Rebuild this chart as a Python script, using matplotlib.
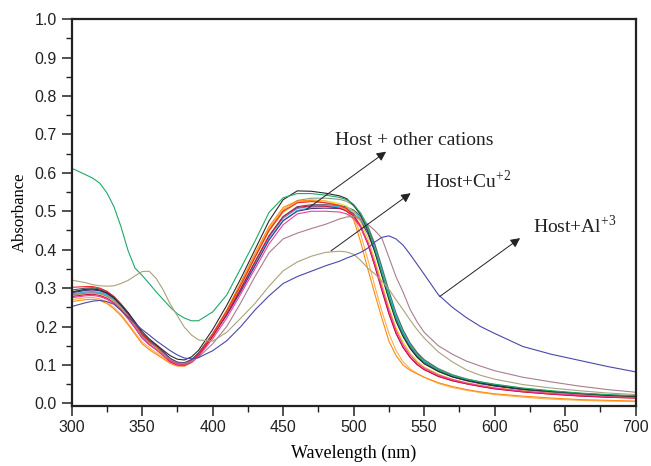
import matplotlib
matplotlib.use("Agg")
import matplotlib.pyplot as plt
from matplotlib.ticker import MultipleLocator

# sampling grid (nm), denser where the curves bend
wavelength = [300, 310, 315, 320, 325, 330, 335, 340, 345, 350, 355, 360, 365, 370, 375, 380, 385, 390,
              400, 410, 420, 430, 440, 450, 460, 470, 480, 490, 495,
              500, 505, 510, 515, 520, 525, 530, 535, 540, 545, 550, 560,
              570, 580, 590, 600, 620, 640, 660, 680, 700]

# absorbance, one row per block of the grid above
host_black = [.290, .297, .298, .295, .288, .275, .256, .236, .212, .187, .168, .153, .138, .124, .115, .113, .121, .138,
              .192, .255, .325, .400, .475, .530, .553, .552, .547, .540, .533,
              .515, .490, .450, .395, .332, .270, .214, .174, .143, .120, .103, .083,
              .069, .060, .053, .047, .037, .031, .026, .021, .018]
host_green = [.612, .595, .586, .573, .548, .512, .460, .398, .352, .333, .312, .290, .270, .250, .233, .222, .215, .215,
              .238, .282, .352, .422, .497, .535, .546, .546, .542, .536, .530,
              .518, .494, .456, .402, .340, .278, .222, .181, .150, .126, .108, .087,
              .073, .063, .056, .050, .040, .033, .027, .023, .020]
host_orange = [.265, .270, .271, .268, .260, .246, .228, .205, .180, .155, .140, .128, .116, .104, .097, .097, .106, .124,
               .180, .243, .315, .390, .460, .510, .527, .528, .522, .515, .500,
               .478, .420, .350, .285, .222, .162, .125, .100, .086, .077, .068, .054,
               .044, .036, .030, .025, .019, .014, .010, .008, .006]
host_lorange = [.270, .275, .276, .272, .264, .250, .232, .208, .184, .160, .145, .132, .119, .106, .099, .098, .107, .124,
                .178, .240, .310, .384, .455, .505, .525, .530, .527, .515, .503,
                .485, .440, .375, .305, .240, .182, .138, .108, .090, .078, .068, .052,
                .041, .034, .028, .023, .016, .011, .008, .006, .005]
host_red = [.302, .304, .304, .300, .292, .278, .258, .235, .208, .180, .162, .148, .130, .113, .103, .102, .111, .128,
            .180, .240, .308, .380, .450, .500, .522, .525, .522, .515, .507,
            .490, .462, .418, .360, .296, .235, .183, .146, .120, .101, .088, .071,
            .059, .051, .044, .038, .030, .024, .020, .016, .014]
host_pink = [.275, .280, .281, .278, .271, .260, .242, .220, .196, .170, .153, .140, .124, .110, .101, .100, .107, .122,
             .168, .222, .285, .350, .415, .465, .493, .500, .500, .498, .493,
             .482, .458, .420, .365, .303, .243, .191, .153, .126, .106, .092, .074,
             .062, .053, .046, .040, .032, .026, .022, .018, .015]
host_yellow = [.280, .286, .287, .285, .278, .266, .248, .226, .200, .172, .155, .142, .126, .110, .102, .101, .109, .126,
               .178, .238, .305, .378, .448, .497, .522, .528, .527, .520, .513,
               .498, .472, .430, .375, .312, .250, .197, .160, .131, .110, .095, .076,
               .063, .054, .047, .041, .033, .027, .022, .018, .016]
host_cyan = [.283, .289, .290, .288, .282, .270, .252, .230, .204, .176, .159, .146, .130, .114, .105, .104, .112, .128,
             .175, .230, .293, .360, .428, .476, .502, .510, .512, .511, .508,
             .500, .482, .452, .405, .346, .285, .228, .185, .152, .127, .110, .087,
             .072, .062, .054, .047, .037, .030, .025, .021, .017]
host_navy = [.288, .294, .295, .293, .286, .274, .256, .233, .207, .179, .162, .149, .133, .116, .107, .105, .113, .130,
             .176, .230, .292, .358, .425, .475, .500, .507, .508, .507, .503,
             .494, .474, .442, .395, .336, .276, .220, .178, .146, .122, .106, .084,
             .069, .059, .051, .045, .035, .028, .023, .019, .016]
host_dgray = [.295, .300, .301, .298, .291, .278, .259, .237, .210, .182, .165, .151, .135, .117, .107, .106, .114, .131,
              .180, .236, .300, .368, .436, .486, .512, .517, .517, .515, .511,
              .503, .487, .458, .412, .352, .290, .233, .190, .156, .131, .113, .089,
              .073, .063, .055, .048, .038, .031, .025, .021, .018]
host_sage = [.290, .296, .297, .294, .287, .275, .256, .234, .208, .180, .163, .149, .133, .116, .106, .105, .113, .131,
             .182, .241, .309, .382, .452, .503, .528, .534, .534, .531, .526,
             .515, .495, .463, .416, .356, .294, .236, .192, .158, .133, .114, .091,
             .075, .064, .056, .049, .039, .032, .026, .022, .019]
host_crimson = [.278, .283, .284, .281, .274, .262, .244, .222, .197, .170, .153, .140, .124, .108, .100, .099, .107, .124,
                .174, .232, .298, .368, .436, .486, .510, .514, .513, .508, .500,
                .488, .458, .415, .357, .294, .233, .182, .146, .120, .101, .088, .070,
                .059, .051, .044, .038, .030, .024, .019, .016, .014]
host_steel = [.285, .290, .291, .289, .283, .271, .253, .231, .205, .177, .160, .147, .131, .114, .104, .103, .111, .128,
              .176, .233, .297, .365, .433, .482, .507, .513, .514, .512, .508,
              .498, .479, .447, .400, .341, .280, .224, .182, .149, .125, .108, .086,
              .071, .061, .053, .046, .036, .029, .024, .020, .017]
host_mauve = [.282, .287, .288, .286, .279, .268, .250, .228, .202, .175, .158, .146, .130, .114, .105, .104, .110, .120,
              .155, .200, .262, .330, .392, .428, .443, .455, .466, .480, .485,
              .487, .481, .466, .450, .430, .380, .330, .290, .245, .212, .185, .150,
              .128, .110, .097, .085, .068, .056, .045, .036, .029]
host_cu = [.321, .314, .309, .306, .305, .306, .312, .320, .332, .343, .344, .325, .295, .258, .228, .198, .178, .165,
           .162, .185, .222, .260, .305, .345, .368, .383, .393, .396, .394,
           .388, .372, .352, .337, .318, .297, .270, .244, .217, .192, .170, .134,
           .108, .087, .073, .063, .049, .040, .033, .027, .023]
host_al = [.252, .262, .266, .268, .265, .258, .242, .225, .208, .192, .178, .163, .150, .137, .126, .118, .116, .119,
           .137, .163, .200, .243, .280, .312, .330, .344, .358, .370, .378,
           .385, .393, .404, .420, .432, .436, .428, .412, .388, .362, .336, .283,
           .250, .223, .200, .182, .148, .128, .112, .096, .082]

cluster = [
    (host_sage, '#7f9f82'), (host_dgray, '#555566'), (host_steel, '#5b8fcc'),
    (host_cyan, '#28c8e8'), (host_navy, '#4a3580'), (host_yellow, '#e0d820'),
    (host_lorange, '#ffb050'), (host_orange, '#ff8a10'), (host_red, '#ee2a2a'),
    (host_crimson, '#cc1045'), (host_pink, '#ee3c9c'), (host_mauve, '#a87e90'),
    (host_black, '#2a2a2a'), (host_green, '#1fa866'), (host_cu, '#aaa27c'),
    (host_al, '#4848aa'),
]

plt.rcParams['mathtext.fontset'] = 'custom'
plt.rcParams['mathtext.rm'] = 'Liberation Serif'

fig = plt.figure(figsize=(6.51, 4.66), dpi=100)
ax = fig.add_axes([0.110, 0.1294, 0.8665, 0.8296])

for spec, col in cluster:
    ax.plot(wavelength, spec, color=col, lw=0.8)

ax.set_xlim(300, 700)
ax.set_ylim(-0.006, 1.0)
ax.xaxis.set_major_locator(MultipleLocator(50))
ax.xaxis.set_minor_locator(MultipleLocator(25))
ax.yaxis.set_major_locator(MultipleLocator(0.1))
ax.yaxis.set_minor_locator(MultipleLocator(0.05))
ax.yaxis.set_major_formatter(plt.FormatStrFormatter('%.1f'))
ax.tick_params(which='major', direction='out', length=7, width=1.1, labelsize=11.5, color='#222222')
ax.tick_params(which='minor', direction='out', length=4, width=1.0, color='#222222')
for lab in ax.get_xticklabels() + ax.get_yticklabels():
    lab.set_fontfamily('Liberation Sans')
    lab.set_color('#222222')
for sp in ax.spines.values():
    sp.set_linewidth(1.6)
    sp.set_color('#222222')

ax.set_xlabel('Wavelength (nm)', family='Liberation Serif', fontsize=13, labelpad=7)
ax.set_ylabel('Absorbance', family='Liberation Serif', fontsize=12, labelpad=5)

arrow = dict(arrowstyle='-|>', color='#222222', lw=0.7, mutation_scale=14, shrinkA=0, shrinkB=0)
ax.annotate('', xy=(523, 0.655), xytext=(466.6, 0.505), arrowprops=arrow)
ax.annotate('', xy=(540.4, 0.547), xytext=(484, 0.397), arrowprops=arrow)
ax.annotate('', xy=(618, 0.430), xytext=(561, 0.278), arrowprops=arrow)
ax.text(486.5, 0.683, 'Host + other cations', family='Liberation Serif', fontsize=14, va='center', color='#222222')
ax.text(550.5, 0.579, r'Host+Cu$^{\mathrm{+2}}$', family='Liberation Serif', fontsize=14, va='center', color='#222222')
ax.text(627, 0.462, r'Host+Al$^{\mathrm{+3}}$', family='Liberation Serif', fontsize=14, va='center', color='#222222')

fig.savefig('out.png', dpi=100)
